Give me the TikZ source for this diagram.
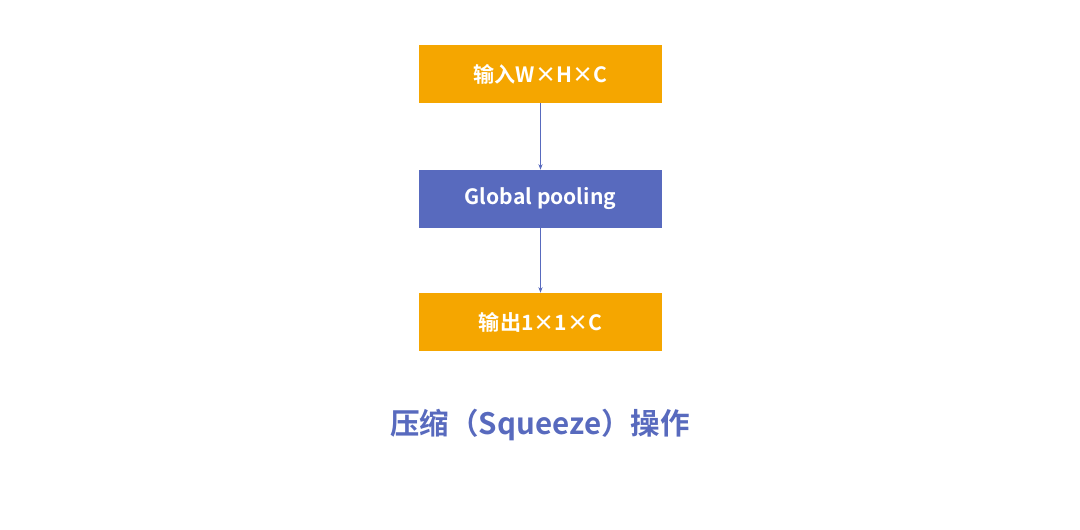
\documentclass[tikz,border=0pt]{standalone}
\usepackage{fontspec}
\usetikzlibrary{arrows.meta}
\setmainfont{Noto Sans CJK SC}[BoldFont={* Bold}]
\definecolor{org}{RGB}{245,166,0}
\definecolor{blu}{RGB}{88,106,190}
\begin{document}
\begin{tikzpicture}[x=0.025cm,y=-0.025cm,
  box/.style={minimum width=6.075cm,minimum height=1.45cm,inner sep=0pt,text=white,font=\fontsize{15}{17}\selectfont\bfseries},
  arr/.style={draw=blu,-{Stealth[length=4pt,width=3pt]},line width=0.5pt}]
\useasboundingbox[fill=white] (0,0) rectangle (1080,530);
\node[box,fill=org] (a) at (540.5,74) {输入W×H×C};
\node[box,fill=blu] (b) at (540.5,199) {Global pooling};
\node[box,fill=org] (c) at (540.5,322) {输出1×1×C};
\draw[arr] (a) -- (b);
\draw[arr] (b) -- (c);
\node[text=blu,font=\fontsize{21}{24}\selectfont\bfseries] (t) at (540,425) {压缩（Squeeze）操作};
\end{tikzpicture}
\end{document}
